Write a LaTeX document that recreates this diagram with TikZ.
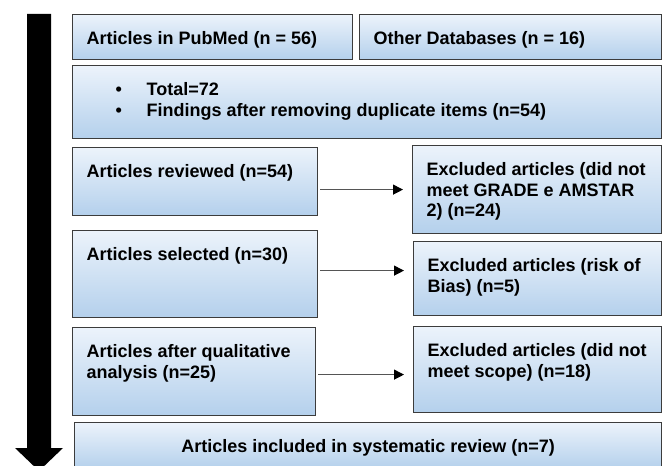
\documentclass[tikz,border=0pt]{standalone}
\usepackage{fontspec}
\setmainfont{Liberation Sans}
\usetikzlibrary{arrows.meta}

\definecolor{boxtop}{RGB}{236,243,251}
\definecolor{boxbottom}{RGB}{180,208,236}
\definecolor{boxline}{RGB}{60,60,60}
\definecolor{linkgray}{RGB}{85,85,85}

% width, height, text of a box (text hangs from the top)
\newcommand{\flowtext}[3]{\parbox[c][#2][t]{#1}{\leftskip=14bp\rightskip=0pt plus 1fil\parindent=0pt\rule{0pt}{30bp}#3}}
\newcommand{\flowitem}{\hspace*{29bp}\makebox[31bp][l]{•}}

\tikzset{
	flowbox/.style={draw=boxline, line width=1.2bp, top color=boxtop, bottom color=boxbottom,
		anchor=north west, inner sep=0pt, font=\bfseries\fontsize{18bp}{20.7bp}\selectfont},
	link/.style={draw=linkgray, line width=1.2bp, -{Triangle[length=10bp,width=10bp,color=black]},
		shorten <=2bp, shorten >=9bp}
}

\begin{document}
\begin{tikzpicture}[x=1bp, y=-1bp]
	\useasboundingbox (0,0) rectangle (663,466);
	\clip (0,0) rectangle (663,466);

	% big downward arrow
	\fill[black] (27,14) -- (51,14) -- (51,448) -- (63,448) -- (39,471) -- (15,448) -- (27,448) -- cycle;

	\node[flowbox] (pubmed) at (72,14) {\flowtext{280bp}{45bp}{Articles in PubMed (n = 56)}};
	\node[flowbox] (other) at (359,14) {\flowtext{302bp}{45bp}{Other Databases (n = 16)}};
	\node[flowbox] (total) at (72,65) {\flowtext{589bp}{73bp}{\flowitem Total=72\\
		\flowitem Findings after removing duplicate items (n=54)}};

	\node[flowbox] (reviewed) at (72,147) {\flowtext{245bp}{68bp}{Articles reviewed (n=54)}};
	\node[flowbox] (selected) at (72,230) {\flowtext{245bp}{87bp}{Articles selected (n=30)}};
	\node[flowbox] (qualit) at (72,327) {\flowtext{243bp}{88bp}{Articles after qualitative\\ analysis (n=25)}};

	\node[flowbox] (exgrade) at (412,145) {\flowtext{249bp}{88bp}{Excluded articles (did not\\ meet GRADE e AMSTAR\\ 2) (n=24)}};
	\node[flowbox] (exbias) at (413,241) {\flowtext{248bp}{74bp}{Excluded articles (risk of\\ Bias) (n=5)}};
	\node[flowbox] (exscope) at (413,326) {\flowtext{248bp}{86bp}{Excluded articles (did not\\ meet scope) (n=18)}};

	\node[flowbox] (included) at (74,422) {\parbox[c][46bp][t]{587bp}{\centering\rule{0pt}{30bp}Articles included in systematic review (n=7)}};

	\draw[link] (reviewed.east |- exgrade.west) -- (exgrade.west);
	\draw[link] ([yshift=8bp]exbias.west -| selected.east) -- ([yshift=8bp]exbias.west);
	\draw[link] ([yshift=-5bp]exscope.west -| qualit.east) -- ([yshift=-5bp]exscope.west);
\end{tikzpicture}
\end{document}
